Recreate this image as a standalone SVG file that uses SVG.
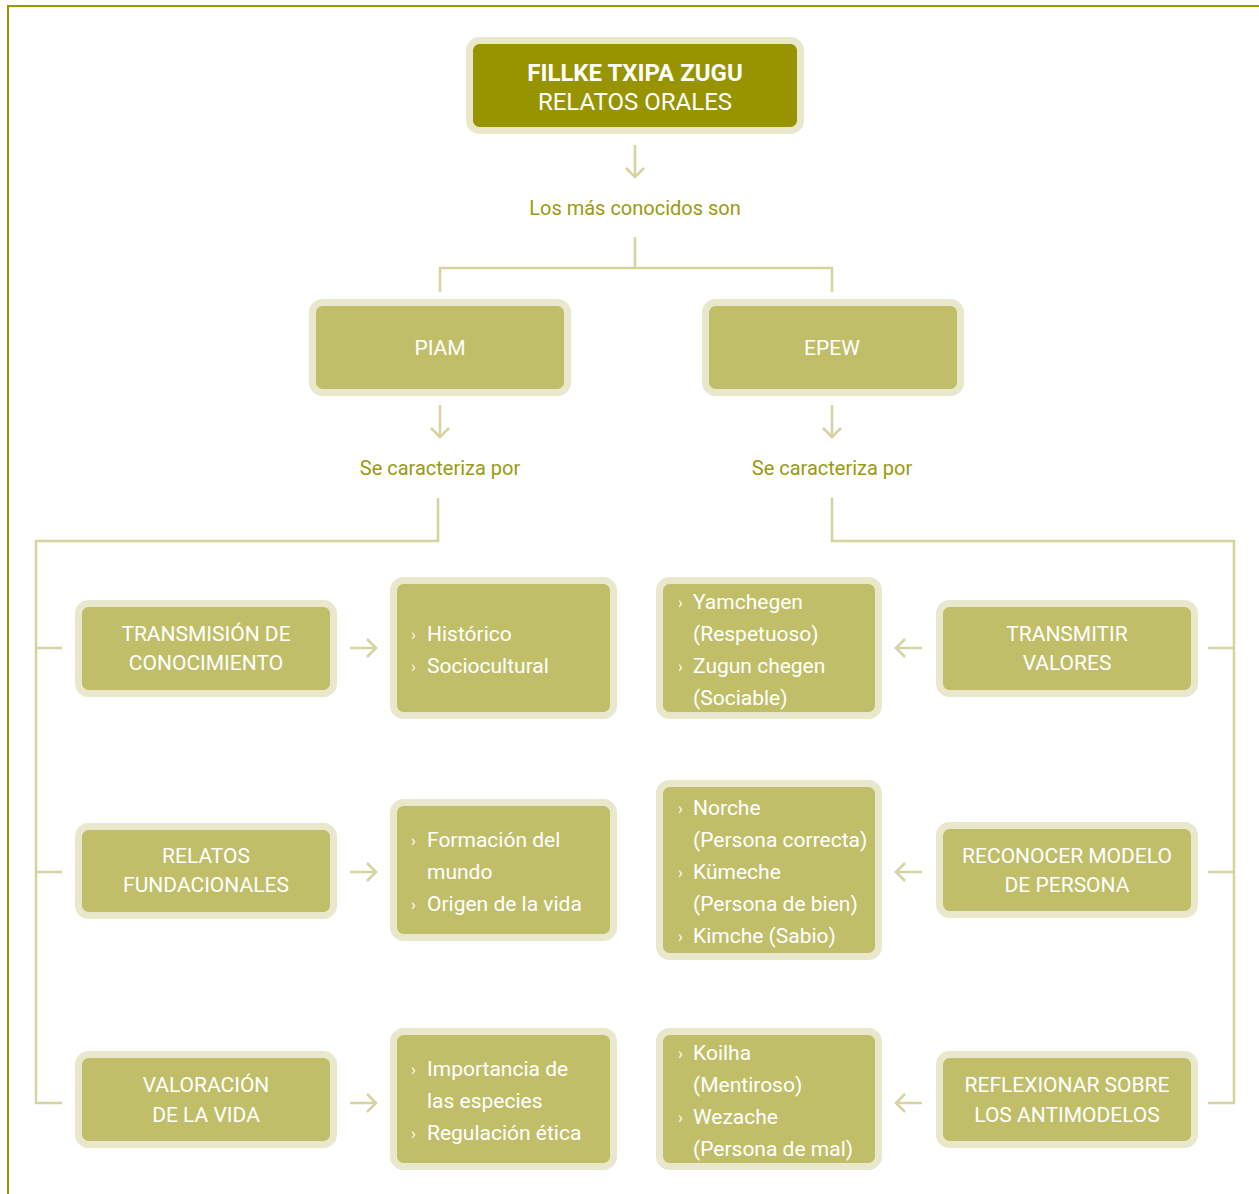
<svg xmlns="http://www.w3.org/2000/svg" width="1259" height="1194" viewBox="0 0 1259 1194">
<style>
.frame{fill:none;stroke:#9a9800;stroke-width:2}
.conn{fill:none;stroke:#d6d3a0;stroke-width:2.5}
.node{fill:#c1be69;stroke:#e9e7cc;stroke-width:7}
.top{fill:#979400;stroke:#e9e7cc;stroke-width:7}
.lbl{font-family:Roboto,"Liberation Sans",sans-serif;font-size:21px;fill:#ffffff;text-anchor:middle}
.big{font-size:24px}
.bold{font-weight:bold}
.item{font-family:Roboto,"Liberation Sans",sans-serif;font-size:21px;fill:#ffffff}
.b{font-family:Roboto,"Liberation Sans",sans-serif;font-size:16px;fill:#ffffff}
.cap{font-family:Roboto,"Liberation Sans",sans-serif;font-size:20px;fill:#9a9a12;text-anchor:middle}
</style>
<defs>
<marker id="ah" viewBox="0 0 20 20" refX="10" refY="10" markerWidth="20" markerHeight="20" markerUnits="userSpaceOnUse" orient="auto">
<path d="M1,1 L10,10 L1,19" fill="none" stroke="#d6d3a0" stroke-width="2.5"/>
</marker>
</defs>
<path class="frame" d="M8,1194 V6 H1259"/>
<g id="connectors">
<path class="conn" d="M635,145 V177" marker-end="url(#ah)"/>
<path class="conn" d="M635,237 V268 M440,292 V268 H832 V292"/>
<path class="conn" d="M440,405 V437" marker-end="url(#ah)"/>
<path class="conn" d="M832,405 V437" marker-end="url(#ah)"/>
<path class="conn" d="M438,498 V541 H36 V1103 H62 M36,648 H62 M36,872 H62"/>
<path class="conn" d="M832,498 V541 H1234 V1103 H1208 M1234,648 H1208 M1234,872 H1208"/>
<path class="conn" d="M350,648 H376" marker-end="url(#ah)"/>
<path class="conn" d="M350,872 H376" marker-end="url(#ah)"/>
<path class="conn" d="M350,1103 H376" marker-end="url(#ah)"/>
<path class="conn" d="M922,648 H896" marker-end="url(#ah)"/>
<path class="conn" d="M922,872 H896" marker-end="url(#ah)"/>
<path class="conn" d="M922,1103 H896" marker-end="url(#ah)"/>
</g>
<g id="root">
<rect class="top" x="469.5" y="40.5" width="331" height="90" rx="10"/>
<text class="lbl big bold" x="635" y="81">FILLKE TXIPA ZUGU</text>
<text class="lbl big" x="635" y="110">RELATOS ORALES</text>
</g>
<text class="cap" x="635" y="215">Los más conocidos son</text>
<g id="piam">
<rect class="node" x="312.5" y="302.5" width="255" height="90" rx="10"/>
<text class="lbl" x="440" y="355">PIAM</text>
</g>
<g id="epew">
<rect class="node" x="705.5" y="302.5" width="255" height="90" rx="10"/>
<text class="lbl" x="832" y="355">EPEW</text>
</g>
<text class="cap" x="440" y="475">Se caracteriza por</text>
<text class="cap" x="832" y="475">Se caracteriza por</text>
<g id="transmision">
<rect class="node" x="78.5" y="603.5" width="255" height="90" rx="10"/>
<text class="lbl" x="206" y="641">TRANSMISIÓN DE</text>
<text class="lbl" x="206" y="670">CONOCIMIENTO</text>
</g>
<g id="historico">
<rect class="node" x="393.5" y="580.5" width="220" height="135" rx="10"/>
<text class="b" x="411" y="640">›</text><text class="item" x="427" y="641">Histórico</text>
<text class="b" x="411" y="672">›</text><text class="item" x="427" y="673">Sociocultural</text>
</g>
<g id="yamchegen">
<rect class="node" x="659.5" y="580.5" width="219" height="135" rx="10"/>
<text class="b" x="678" y="608">›</text><text class="item" x="693" y="609">Yamchegen</text>
<text class="item" x="693" y="641">(Respetuoso)</text>
<text class="b" x="678" y="672">›</text><text class="item" x="693" y="673">Zugun chegen</text>
<text class="item" x="693" y="705">(Sociable)</text>
</g>
<g id="valores">
<rect class="node" x="939.5" y="603.5" width="255" height="90" rx="10"/>
<text class="lbl" x="1067" y="641">TRANSMITIR</text>
<text class="lbl" x="1067" y="670">VALORES</text>
</g>
<g id="fundacionales">
<rect class="node" x="78.5" y="826.5" width="255" height="89" rx="10"/>
<text class="lbl" x="206" y="863">RELATOS</text>
<text class="lbl" x="206" y="892">FUNDACIONALES</text>
</g>
<g id="formacion">
<rect class="node" x="393.5" y="802.5" width="220" height="135" rx="10"/>
<text class="b" x="411" y="846">›</text><text class="item" x="427" y="847">Formación del</text>
<text class="item" x="427" y="879">mundo</text>
<text class="b" x="411" y="910">›</text><text class="item" x="427" y="911">Origen de la vida</text>
</g>
<g id="norche">
<rect class="node" x="659.5" y="783.5" width="219" height="173" rx="10"/>
<text class="b" x="678" y="814">›</text><text class="item" x="693" y="815">Norche</text>
<text class="item" x="693" y="847">(Persona correcta)</text>
<text class="b" x="678" y="878">›</text><text class="item" x="693" y="879">Kümeche</text>
<text class="item" x="693" y="911">(Persona de bien)</text>
<text class="b" x="678" y="942">›</text><text class="item" x="693" y="943">Kimche (Sabio)</text>
</g>
<g id="modelo">
<rect class="node" x="939.5" y="825.5" width="255" height="89" rx="10"/>
<text class="lbl" x="1067" y="863">RECONOCER MODELO</text>
<text class="lbl" x="1067" y="892">DE PERSONA</text>
</g>
<g id="valoracion">
<rect class="node" x="78.5" y="1054.5" width="255" height="90" rx="10"/>
<text class="lbl" x="206" y="1092">VALORACIÓN</text>
<text class="lbl" x="206" y="1122">DE LA VIDA</text>
</g>
<g id="importancia">
<rect class="node" x="393.5" y="1031.5" width="220" height="135" rx="10"/>
<text class="b" x="411" y="1075">›</text><text class="item" x="427" y="1076">Importancia de</text>
<text class="item" x="427" y="1108">las especies</text>
<text class="b" x="411" y="1139">›</text><text class="item" x="427" y="1140">Regulación ética</text>
</g>
<g id="koilha">
<rect class="node" x="659.5" y="1031.5" width="219" height="135" rx="10"/>
<text class="b" x="678" y="1059">›</text><text class="item" x="693" y="1060">Koilha</text>
<text class="item" x="693" y="1092">(Mentiroso)</text>
<text class="b" x="678" y="1123">›</text><text class="item" x="693" y="1124">Wezache</text>
<text class="item" x="693" y="1156">(Persona de mal)</text>
</g>
<g id="antimodelos">
<rect class="node" x="939.5" y="1054.5" width="255" height="90" rx="10"/>
<text class="lbl" x="1067" y="1092">REFLEXIONAR SOBRE</text>
<text class="lbl" x="1067" y="1122">LOS ANTIMODELOS</text>
</g>
</svg>
